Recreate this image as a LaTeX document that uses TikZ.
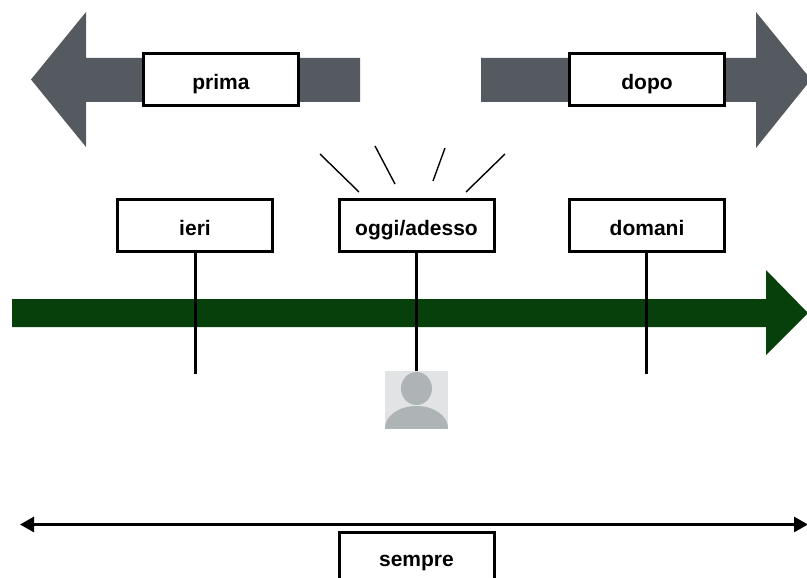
\documentclass[tikz,border=0pt]{standalone}
\usepackage{fontspec}
\setmainfont{Liberation Sans}
\usetikzlibrary{arrows.meta}
\definecolor{greyarrow}{HTML}{555A61}
\definecolor{greenarrow}{HTML}{07400B}
\definecolor{personbg}{HTML}{E1E3E4}
\definecolor{personfg}{HTML}{AEB3B6}
\tikzset{
  labelbox/.style={draw=black,fill=white,line width=3pt,minimum width=155pt,minimum height=52pt,inner sep=0pt,outer sep=0pt,text height=20pt,text depth=0pt,font=\fontsize{21}{24}\selectfont\bfseries},
  stem/.style={draw=black,line width=3pt},
  ray/.style={draw=black,line width=1.4pt}
}
\begin{document}
\begin{tikzpicture}[x=1pt,y=-1pt]
\useasboundingbox (0,0) rectangle (807,578);
\clip (0,0) rectangle (807,578);
% grey arrows
\fill[greyarrow] (360,58) -- (86,58) -- (86,12) -- (31,79.5) -- (86,147) -- (86,102) -- (360,102) -- cycle;
\fill[greyarrow] (481,58) -- (756,58) -- (756,12) -- (811,79.5) -- (756,148) -- (756,102) -- (481,102) -- cycle;
% green arrow
\fill[greenarrow] (12,299) -- (766,299) -- (766,270) -- (808,313) -- (766,355) -- (766,327) -- (12,327) -- cycle;
% boxes
\node[labelbox] (prima) at (221,79.5) {prima};
\node[labelbox] (dopo) at (647,79.5) {dopo};
\node[labelbox] (ieri) at (195,225.5) {ieri};
\node[labelbox] (oggi) at (416.5,225.5) {oggi/adesso};
\node[labelbox] (domani) at (647,225.5) {domani};
\node[labelbox,text height=16pt] (sempre) at (416.5,558) {sempre};
% person
\node[inner sep=0pt,outer sep=0pt,minimum width=63pt,minimum height=57pt,fill=personbg] (person) at (416.5,399.5) {};
\begin{scope}
\clip (person.north west) rectangle (person.south east);
\fill[personfg] (416.5,388.5) ellipse [x radius=15.5pt,y radius=16.5pt];
\fill[personfg] (416.5,428) ellipse [x radius=31.5pt,y radius=22pt];
\end{scope}
% stems
\coordinate (ieriend) at (195.5,374);
\coordinate (domaniend) at (646,374);
\draw[stem] (ieri.south -| ieriend) -- (ieriend);
\draw[stem] (oggi.south) -- (person.north);
\draw[stem] (domani.south -| domaniend) -- (domaniend);
% rays
\coordinate (r1a) at (320,154); \coordinate (r1b) at (359,192);
\coordinate (r2a) at (375,146); \coordinate (r2b) at (395,184);
\coordinate (r3a) at (445,148); \coordinate (r3b) at (433,181);
\coordinate (r4a) at (505,154); \coordinate (r4b) at (466,192);
\draw[ray] (r1a) -- (r1b);
\draw[ray] (r2a) -- (r2b);
\draw[ray] (r3a) -- (r3b);
\draw[ray] (r4a) -- (r4b);
% double arrow
\coordinate (sl) at (20,524.5);
\coordinate (sr) at (808,524.5);
\draw[line width=2.8pt,{Triangle[length=14pt,width=15pt]}-{Triangle[length=14pt,width=15pt]}] (sl) -- (sr);
\end{tikzpicture}
\end{document}
